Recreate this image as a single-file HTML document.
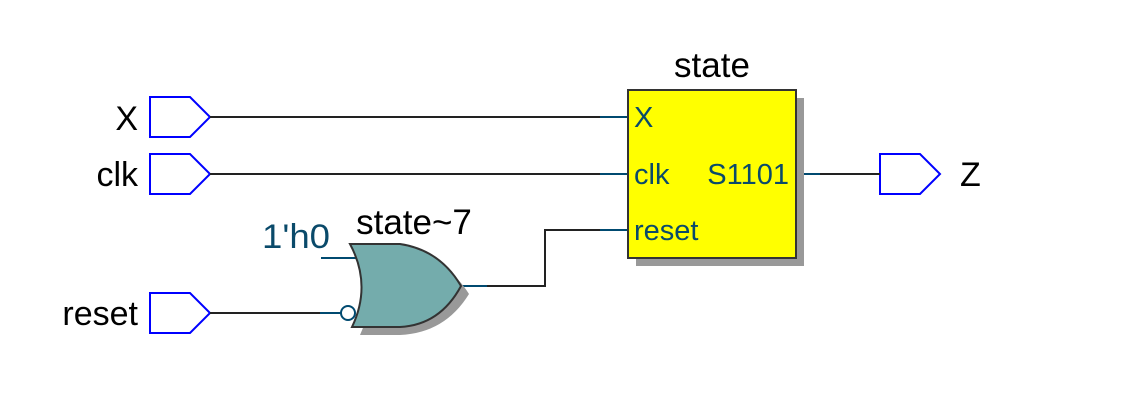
<!DOCTYPE html>
<html><head><style>body{margin:0;background:#fff}svg{display:block}text{font-family:"Liberation Sans",sans-serif}</style></head><body>
<svg width="1123" height="417" viewBox="0 0 1123 417">
<g fill="#fff" stroke="#0000ff" stroke-width="2">
<path d="M150 97H190L210 117L190 137H150Z"/>
<path d="M150 154H190L210 174L190 194H150Z"/>
<path d="M150 293H190L210 313L190 333H150Z"/>
<path d="M880 154H920L940 174L920 194H880Z"/>
</g>
<g font-size="34" fill="#000">
<text x="138" y="130" text-anchor="end">X</text>
<text x="138" y="186" text-anchor="end">clk</text>
<text x="138" y="325" text-anchor="end">reset</text>
<text x="960" y="186">Z</text>
<text x="712" y="77" text-anchor="middle" font-size="35">state</text>
<text x="414" y="234" text-anchor="middle" font-size="35">state~7</text>
</g>
<g stroke="#222" stroke-width="2" fill="none">
<path d="M210 117H600M210 174H600M210 313H320M461 286H545V230H600M820 174H880"/>
</g>
<g stroke="#004a70" stroke-width="2" fill="none">
<path d="M600 117H628M600 174H628M600 230H628M796 174H820M461 286H487M320 313H341M321 258H361"/>
</g>
<rect x="636" y="98" width="168" height="168" fill="#999"/>
<rect x="628" y="90" width="168" height="168" fill="#ffff00" stroke="#333" stroke-width="2"/>
<g font-size="29" fill="#0a4a6a">
<text x="634" y="127">X</text>
<text x="634" y="184">clk</text>
<text x="789" y="184" text-anchor="end">S1101</text>
<text x="634" y="240">reset</text>
<text x="262" y="248" font-size="34" textLength="68" lengthAdjust="spacingAndGlyphs">1'h0</text>
</g>
<path d="M360 252Q382 285 360 335H400Q445 333 469 294Q445 256 400 252Z" fill="#999"/>
<path d="M350 244Q372 285 352 327H400Q440 325 461 286Q440 250 400 244Z" fill="#74acac" stroke="#333" stroke-width="2"/>
<circle cx="348" cy="313" r="7" fill="#fff" stroke="#004a70" stroke-width="2"/>
</svg>
</body></html>
